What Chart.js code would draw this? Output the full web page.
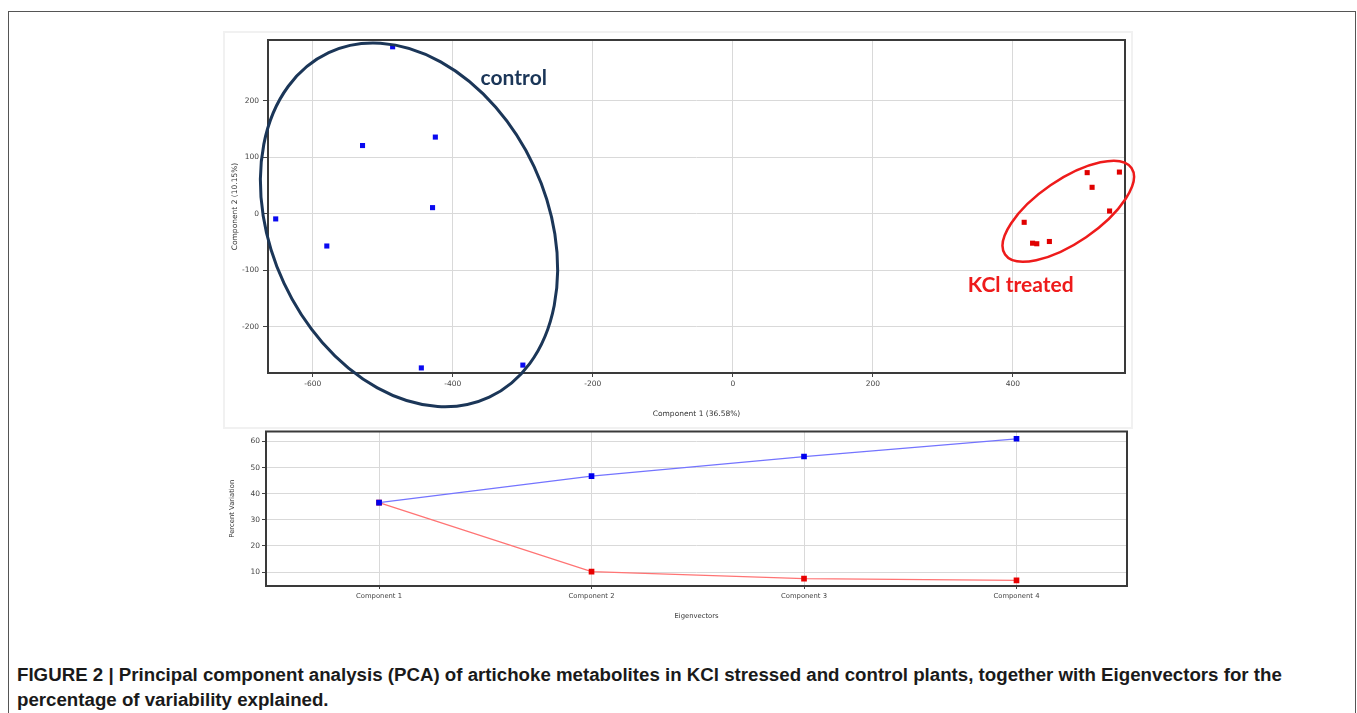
<!DOCTYPE html>
<html>
<head>
<meta charset="utf-8">
<script src="https://cdn.jsdelivr.net/npm/chart.js@4.4.1/dist/chart.umd.min.js"></script>
<style>
html,body{margin:0;padding:0;background:#fff;width:1357px;height:713px;overflow:hidden;}
#frame{position:absolute;left:8px;top:11px;width:1348px;height:720px;border:1px solid #555;box-sizing:border-box;}
#panel{position:absolute;left:223px;top:31px;width:910px;height:398px;border:2px solid #f1f1f1;box-sizing:border-box;}
#c1{position:absolute;left:222px;top:30px;}
#c2{position:absolute;left:222px;top:425px;}
#caption{position:absolute;left:17px;top:662px;white-space:nowrap;font-family:"Liberation Sans",Arial,sans-serif;font-weight:bold;font-size:18.7px;line-height:25px;color:#1a1a1a;}
</style>
</head>
<body>
<div id="frame"></div>
<div id="panel"></div>
<canvas id="c1" width="918" height="398"></canvas>
<canvas id="c2" width="918" height="200"></canvas>
<div id="caption">FIGURE 2 | Principal component analysis (PCA) of artichoke metabolites in KCl stressed and control plants, together with Eigenvectors for the<br>percentage of variability explained.</div>
<script>
// ---- PCA scores (Component 1, Component 2) ----
const controlX = [-486, -529, -425, -653, -429, -580, -445, -300];
const controlY = [296, 121, 136, -9, 11, -57, -273, -268];
const kclX = [506, 552, 513, 538, 416, 428, 434, 452];
const kclY = [73, 74, 47, 5, -15, -52, -53, -49];
const pcaXTicks = [-600, -400, -200, 0, 200, 400];
const pcaYTicks = [-200, -100, 0, 100, 200];

// ---- Eigenvector percent variation ----
const components = ['Component 1', 'Component 2', 'Component 3', 'Component 4'];
const cumulativeVariation = [36.58, 46.73, 54.23, 61.03];
const individualVariation = [36.58, 10.15, 7.5, 6.8];
const variationTicks = [10, 20, 30, 40, 50, 60];

// annotation outlines (centre in data units, radii in px)
const groupOutlines = [
  {label: 'control', cx: -462.6, cy: -19.6, rx: 138, ry: 190, rot: -25, color: '#1b3658', width: 3, tx: -313, ty: 228},
  {label: 'KCl treated', cx: 479, cy: 4.6, rx: 76.6, ry: 31.5, rot: -34.4, color: '#ee1b1b', width: 2.5, tx: 411, ty: -138}
];

const framePlugin = {
  id: 'frame',
  beforeDatasetsDraw(chart) {
    const a = chart.chartArea, ctx = chart.ctx;
    ctx.save();
    ctx.strokeStyle = '#3a3a3a';
    ctx.lineWidth = 2;
    ctx.strokeRect(a.left, a.top, a.right - a.left, a.bottom - a.top);
    ctx.restore();
  }
};

const outlinePlugin = {
  id: 'outlines',
  afterDraw(chart) {
    const ctx = chart.ctx, xs = chart.scales.x, ys = chart.scales.y;
    ctx.save();
    groupOutlines.forEach(g => {
      ctx.beginPath();
      ctx.ellipse(xs.getPixelForValue(g.cx), ys.getPixelForValue(g.cy), g.rx, g.ry, g.rot * Math.PI / 180, 0, Math.PI * 2);
      ctx.strokeStyle = g.color;
      ctx.lineWidth = g.width;
      ctx.stroke();
      ctx.fillStyle = g.color;
      ctx.font = 'bold 21px Lato, "Open Sans", sans-serif';
      ctx.textAlign = 'center';
      ctx.textBaseline = 'alphabetic';
      ctx.fillText(g.label, xs.getPixelForValue(g.tx), ys.getPixelForValue(g.ty));
    });
    ctx.restore();
  }
};

const tickFont = {family: 'DejaVu Sans', size: 7.5};
const titleFont = {family: 'DejaVu Sans', size: 7.5};

new Chart(document.getElementById('c1'), {
  type: 'scatter',
  data: {
    datasets: [
      {label: 'control', data: controlX.map((x, i) => ({x, y: controlY[i]})), pointStyle: 'rect', pointRadius: 3.6, backgroundColor: '#0a0af0', borderColor: '#0a0af0', borderWidth: 0},
      {label: 'KCl treated', data: kclX.map((x, i) => ({x, y: kclY[i]})), pointStyle: 'rect', pointRadius: 3.6, backgroundColor: '#e00000', borderColor: '#e00000', borderWidth: 0}
    ]
  },
  options: {
    responsive: false, animation: false,
    layout: {padding: {top: 10, right: 15, left: 0, bottom: 0}},
    plugins: {legend: {display: false}, tooltip: {enabled: false}},
    scales: {
      x: {
        type: 'linear', min: -664, max: 560,
        afterBuildTicks: s => { s.ticks = pcaXTicks.map(v => ({value: v})); },
        afterFit: s => { s.height = 55; },
        grid: {color: '#d9d9d9', tickColor: '#444', tickLength: 4, lineWidth: 1},
        border: {display: false},
        ticks: {font: tickFont, color: '#444', padding: 3, maxRotation: 0, autoSkip: false, callback: v => String(v)},
        title: {display: true, text: 'Component 1 (36.58%)', font: titleFont, color: '#333', padding: {top: 0, bottom: 9}}
      },
      y: {
        type: 'linear', min: -282, max: 308,
        afterBuildTicks: s => { s.ticks = pcaYTicks.map(v => ({value: v})); },
        afterFit: s => { s.width = 46; },
        grid: {color: '#d9d9d9', tickColor: '#444', tickLength: 5, lineWidth: 1},
        border: {display: false},
        ticks: {font: tickFont, color: '#444', padding: 4, autoSkip: false, callback: v => String(v)},
        title: {display: true, text: 'Component 2 (10.15%)', font: titleFont, color: '#333', padding: {top: 9, bottom: 0}}
      }
    }
  },
  plugins: [framePlugin, outlinePlugin]
});

new Chart(document.getElementById('c2'), {
  type: 'line',
  data: {
    datasets: [
      {label: 'Cumulative', data: components.map((c, i) => ({x: i + 1, y: cumulativeVariation[i]})), borderColor: '#7474ff', borderWidth: 1.3, pointStyle: 'rect', pointRadius: 4, backgroundColor: '#0000ee', pointBorderWidth: 0, tension: 0},
      {label: 'Individual', data: components.map((c, i) => ({x: i + 1, y: individualVariation[i]})), borderColor: '#ff7474', borderWidth: 1.3, pointStyle: 'rect', pointRadius: 4, backgroundColor: '#e80000', pointBorderWidth: 0, tension: 0}
    ]
  },
  options: {
    responsive: false, animation: false,
    layout: {padding: {top: 6, right: 13, left: 0, bottom: 0}},
    plugins: {legend: {display: false}, tooltip: {enabled: false}},
    scales: {
      x: {
        type: 'linear', min: 0.468, max: 4.52,
        afterBuildTicks: s => { s.ticks = components.map((c, i) => ({value: i + 1})); },
        afterFit: s => { s.height = 39; },
        grid: {color: '#d9d9d9', tickColor: '#444', tickLength: 3, lineWidth: 1},
        border: {display: false},
        ticks: {font: {family: 'DejaVu Sans', size: 6.8}, color: '#444', padding: 3, maxRotation: 0, autoSkip: false, callback: v => components[Math.round(v) - 1]},
        title: {display: true, text: 'Eigenvectors', font: {family: 'DejaVu Sans', size: 6.8}, color: '#333', padding: {top: 0, bottom: 5}}
      },
      y: {
        type: 'linear', min: 4.66, max: 63.82,
        afterBuildTicks: s => { s.ticks = variationTicks.map(v => ({value: v})); },
        afterFit: s => { s.width = 44; },
        grid: {color: '#d9d9d9', tickColor: '#444', tickLength: 4, lineWidth: 1},
        border: {display: false},
        ticks: {font: {family: 'DejaVu Sans', size: 7.5}, color: '#444', padding: 2, autoSkip: false, callback: v => String(v)},
        title: {display: true, text: 'Percent Variation', font: {family: 'DejaVu Sans', size: 6.8}, color: '#333', padding: {top: 6.5, bottom: 0}}
      }
    }
  },
  plugins: [framePlugin]
});
</script>
</body>
</html>
